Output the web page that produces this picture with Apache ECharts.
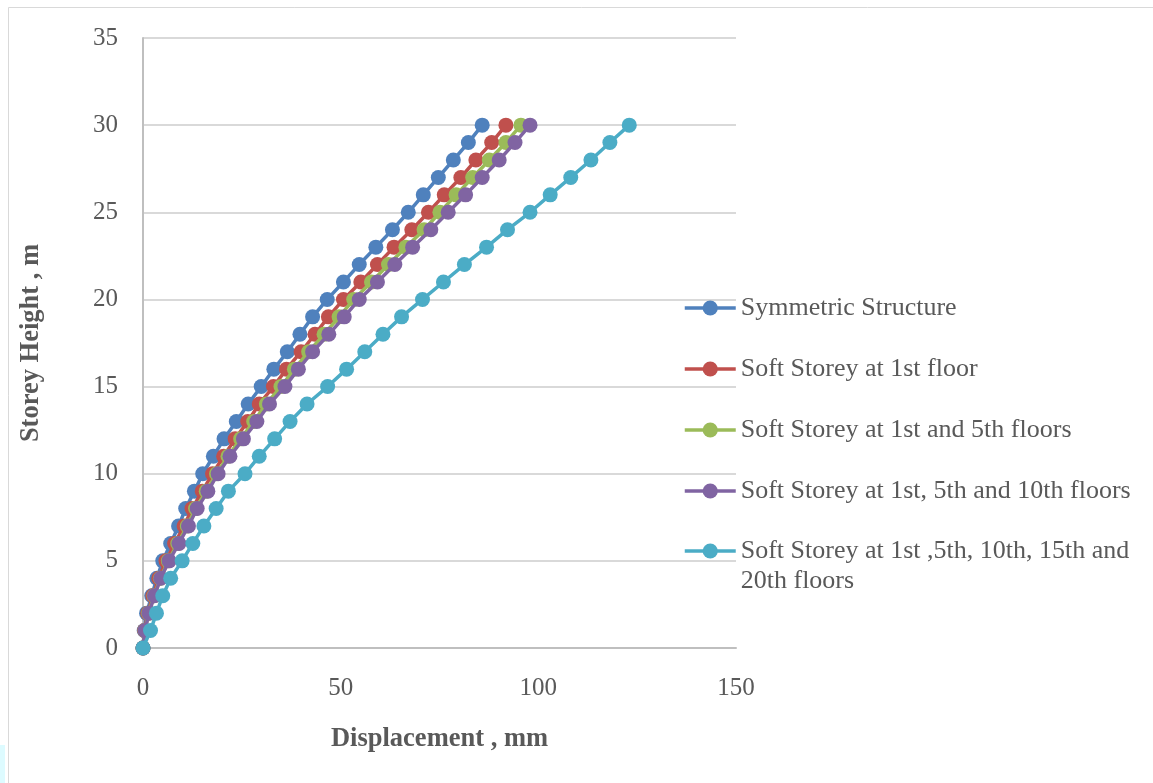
<!DOCTYPE html>
<html>
<head>
<meta charset="utf-8">
<script src="https://cdn.jsdelivr.net/npm/echarts@6/dist/echarts.min.js"></script>
<style>
html,body{margin:0;padding:0;background:#fff;}
#chart{width:1153px;height:783px;}
</style>
</head>
<body>
<div id="chart"></div>
<script>
const heights = [0,1,2,3,4,5,6,7,8,9,10,11,12,13,14,15,16,17,18,19,20,21,22,23,24,25,26,27,28,29,30];
const seriesNames = [
  'Symmetric Structure',
  'Soft Storey at 1st floor',
  'Soft Storey at 1st and 5th floors',
  'Soft Storey at 1st, 5th and 10th floors',
  'Soft Storey at 1st ,5th, 10th, 15th and 20th floors'
];
const symmetric = [0,0.3,0.9,2.2,3.5,5.0,7.0,9.0,10.8,13.0,15.1,17.8,20.5,23.6,26.6,29.9,33.1,36.5,39.7,42.9,46.6,50.7,54.7,58.9,63.1,67.1,70.9,74.7,78.5,82.3,85.8];
const soft1 = [0,0.4,1.2,2.5,4.0,5.8,8.0,10.4,12.4,15.0,17.6,20.4,23.3,26.5,29.4,33.0,36.3,40.0,43.5,46.9,50.7,55.1,59.3,63.5,68.0,72.2,76.2,80.4,84.2,88.2,91.8];
const soft1_5 = [0,0.5,1.4,2.8,4.4,6.4,8.8,11.2,13.3,16.0,18.6,21.5,24.7,28.0,31.2,34.9,38.3,41.9,45.8,49.6,53.3,57.8,62.1,66.5,71.1,75.1,79.2,83.4,87.6,91.8,95.6];
const soft1_5_10 = [0,0.5,1.5,2.9,4.5,6.6,9.1,11.5,13.7,16.4,19.0,22.0,25.4,28.8,32.0,35.9,39.3,42.9,47.0,50.9,54.7,59.3,63.7,68.2,72.8,77.2,81.6,85.8,90.1,94.1,97.9];
const soft1_5_10_15_20 = [0,1.9,3.4,5.0,7.0,9.9,12.6,15.4,18.5,21.6,25.8,29.4,33.3,37.2,41.5,46.7,51.5,56.1,60.7,65.4,70.7,76.0,81.3,86.9,92.2,97.9,103.0,108.2,113.3,118.1,123.0];
const xTicks = [0,50,100,150];
const yTicks = [0,5,10,15,20,25,30,35];

const colors = ['#4F81BD','#C0504D','#9BBB59','#8064A2','#4BACC6'];
const allValues = [symmetric, soft1, soft1_5, soft1_5_10, soft1_5_10_15_20];
const FONT = '"Liberation Serif","Times New Roman",serif';
const TXT = '#595959';

const chart = echarts.init(document.getElementById('chart'), null, {renderer:'canvas'});
const series = allValues.map((vals, i) => ({
  name: seriesNames[i],
  type: 'line',
  data: vals.map((v, j) => [v, heights[j]]),
  symbol: 'circle',
  symbolSize: 15,
  showAllSymbol: true,
  lineStyle: {width: 3.5, color: colors[i]},
  itemStyle: {color: colors[i]},
  animation: false,
  z: 2 + i
}));

const legendCommon = {
  orient: 'vertical',
  left: 683,
  padding: 0,
  itemWidth: 51,
  itemHeight: 19,
  selectedMode: false,
  lineStyle: {width: 3.5},
  textStyle: {fontFamily: FONT, fontSize: 26, color: TXT, lineHeight: 30}
};

chart.setOption({
  backgroundColor: '#fff',
  color: colors,
  animation: false,
  graphic: [
    {type:'rect', shape:{x:8.5,y:7.5,width:1160,height:800}, style:{fill:'none', stroke:'#D9D9D9', lineWidth:1}, silent:true, z:-1},
    {type:'rect', shape:{x:0,y:745,width:5,height:38}, style:{fill:'#DDFBFF'}, silent:true, z:-1}
  ],
  grid: {left:143, top:38, width:593, height:610, containLabel:false},
  legend: [
    Object.assign({}, legendCommon, {top: 293, itemGap: 31, data: seriesNames.slice(0,4)}),
    Object.assign({}, legendCommon, {top: 506, data: seriesNames.slice(4),
      formatter: function(){ return '\nSoft Storey at 1st ,5th, 10th, 15th and\n20th floors'; }})
  ],
  xAxis: {
    type: 'value', min: xTicks[0], max: xTicks[xTicks.length-1], interval: 50,
    name: 'Displacement , mm', nameLocation: 'middle', nameGap: 78,
    nameTextStyle: {fontFamily: FONT, fontSize: 26.5, fontWeight: 'bold', color: TXT},
    axisLine: {show:true, onZero:false, lineStyle:{color:'#BFBFBF', width:2}},
    axisTick: {show:false},
    splitLine: {show:false},
    axisLabel: {fontFamily: FONT, fontSize: 25, color: TXT, margin: 28}
  },
  yAxis: {
    type: 'value', min: yTicks[0], max: yTicks[yTicks.length-1], interval: 5,
    name: 'Storey Height , m', nameLocation: 'middle', nameGap: 98, nameRotate: 90,
    nameTextStyle: {fontFamily: FONT, fontSize: 26.5, fontWeight: 'bold', color: TXT},
    axisLine: {show:true, lineStyle:{color:'#BFBFBF', width:2}},
    axisTick: {show:false},
    splitLine: {show:true, lineStyle:{color:'#D9D9D9', width:2}},
    axisLabel: {fontFamily: FONT, fontSize: 25, color: TXT, margin: 25}
  },
  series: series
});
</script>
</body>
</html>
